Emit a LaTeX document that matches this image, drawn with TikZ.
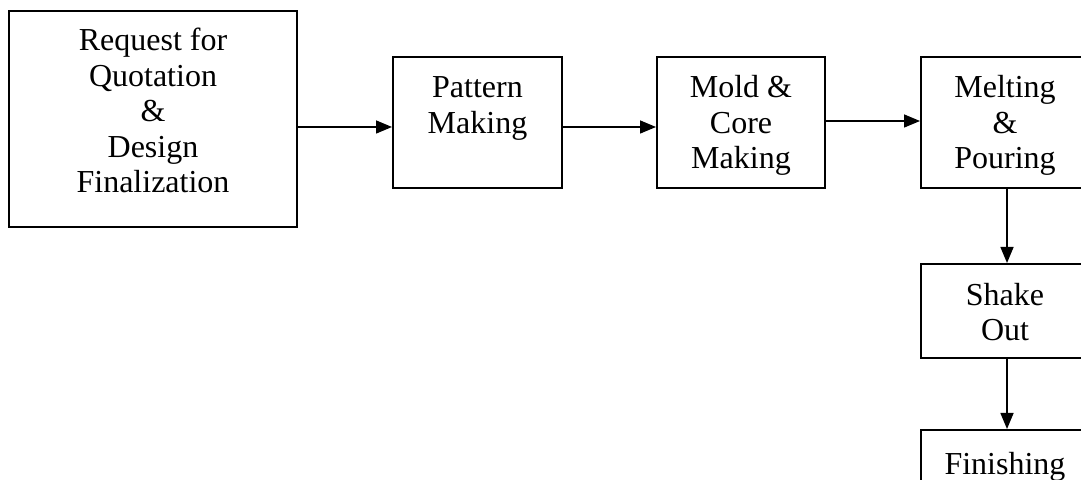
\documentclass[tikz,border=0pt]{standalone}
\usepackage{fontspec}
\setmainfont{Liberation Serif}
\usetikzlibrary{arrows.meta,positioning}
\tikzset{stage/.style={draw,line width=1pt,inner sep=0pt}}
\tikzset{stagetext/.style={align=center,inner sep=0pt,anchor=base,font=\fontsize{16}{17.75}\selectfont}}
\tikzset{flow/.style={-{Triangle[length=8pt,width=6.5pt]},line width=0.75pt}}

\begin{document}
\begin{tikzpicture}[x=0.5pt,y=-0.5pt]
\useasboundingbox (0,0) rectangle (1081,480);
\clip (0,0) rectangle (1081,480);
\node[stage,name=rfq,minimum width=144pt,minimum height=108pt] at (153,119) {};
\node[stage,name=pat,minimum width=84.5pt,minimum height=65.5pt] at (477.5,122.5) {};
\node[stage,name=mold,minimum width=84pt,minimum height=65.5pt] at (741,122.5) {};
\node[stage,name=melt,minimum width=84pt,minimum height=65.5pt] at (1005,122.5) {};
\node[stage,name=shake,minimum width=84pt,minimum height=47pt] at (1005,311) {};
\node[stage,name=fin,minimum width=84pt,minimum height=47pt] at (1005,477) {};
% base anchor sits on the last line
\node[stagetext,name=rfqt] at (153,193) {Request for\\Quotation\\\&\\Design\\Finalization};
\node[stagetext,name=patt] at (477.5,133.5) {Pattern\\Making};
\node[stagetext,name=moldt] at (741,169) {Mold \&\\Core\\Making};
\node[stagetext,name=meltt] at (1005,169) {Melting\\\&\\Pouring};
\node[stagetext,name=shaket] at (1005,341) {Shake\\Out};
\node[stagetext,name=fint] at (1005,474) {Finishing};
\coordinate (in2) at ([yshift=-2.25pt]pat.west);
\draw[flow] (rfq.east |- in2) -- (in2);
\draw[flow] (pat.east |- in2) -- (mold.west |- in2);
\draw[flow] ([yshift=0.75pt]mold.east) -- ([yshift=0.75pt]melt.west);
\draw[flow] ([xshift=1pt]melt.south) -- ([xshift=1pt]shake.north);
\draw[flow] ([xshift=1pt]shake.south) -- ([xshift=1pt]fin.north);
\end{tikzpicture}
\end{document}
